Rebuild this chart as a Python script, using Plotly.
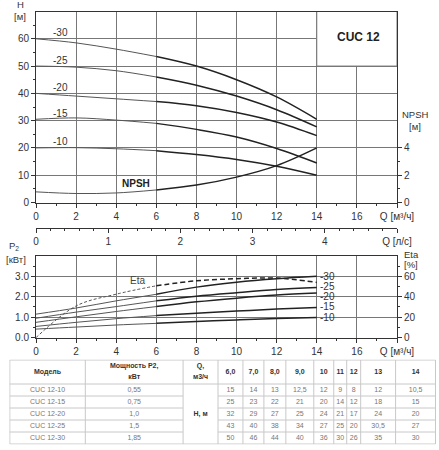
import plotly.graph_objects as go

# flow, m3/h
q = [0, 2, 4, 6, 8, 10, 12, 14]
stages = ["-30", "-25", "-20", "-15", "-10"]

# head curves, m
h_30 = [60, 58.5, 56.2, 53.5, 50, 45, 38.7, 30.5]
h_25 = [50, 49.6, 48.3, 46, 43, 39, 34, 27.7]
h_20 = [40, 39, 38, 37, 35.5, 33, 29.5, 24.5]
h_15 = [30.5, 31, 30.2, 29, 26.8, 24, 19.8, 14.5]
h_10 = [20, 20.1, 19.7, 19, 17.6, 15.8, 13.3, 10]
npsh = [0.78, 0.66, 0.7, 0.92, 1.28, 1.86, 2.7, 4.0]

# power P2, kW
p_30 = [1.15, 1.45, 1.8, 2.12, 2.47, 2.71, 2.88, 3.0]
p_25 = [0.95, 1.25, 1.52, 1.8, 2.03, 2.2, 2.35, 2.45]
p_20 = [0.75, 1.02, 1.28, 1.52, 1.75, 1.93, 2.08, 2.18]
p_15 = [0.55, 0.75, 0.93, 1.08, 1.2, 1.3, 1.4, 1.48]
p_10 = [0.42, 0.52, 0.62, 0.7, 0.79, 0.87, 0.94, 0.99]
p_label_y = [3.0, 2.5, 2.0, 1.5, 1.0]
eta = [0, 31, 42.5, 50.7, 55.6, 57.6, 58.2, 54]

# table
models = ["CUC 12-10", "CUC 12-15", "CUC 12-20", "CUC 12-25", "CUC 12-30"]
powers = ["0,55", "0,75", "1,0", "1,5", "1,85"]
q_cols = ["6,0", "7,0", "8,0", "9,0", "10", "11", "12", "13", "14"]
t_10 = ["15", "14", "13", "12,5", "12", "9", "8", "12", "10,5"]
t_15 = ["25", "23", "22", "21", "20", "14", "12", "18", "15"]
t_20 = ["32", "29", "27", "25", "24", "21", "17", "24", "20"]
t_25 = ["43", "40", "38", "34", "27", "25", "20", "30,5", "27"]
t_30 = ["50", "46", "44", "40", "36", "30", "26", "35", "30"]
header_txt = ["Модель", "Мощность P2,<br>кВт", "Q,<br>м3/ч"] + q_cols

heads = [h_30, h_25, h_20, h_15, h_10]
powers_kw = [p_30, p_25, p_20, p_15, p_10]
rows = [t_10, t_15, t_20, t_25, t_30]
split = 3  # operating range starts at Q=6

# table geometry (px)
col_w = [75.7, 98, 35, 25, 21, 22, 28, 20, 13, 14, 35, 40]
head_h, row_h = 24, 12

THIN = dict(color="#555", width=1, shape="spline")
THICK = dict(color="#222", width=1.5, shape="spline")
FONT = "Liberation Sans, Arial, sans-serif"
TXT = "#333"

fig = go.Figure()


def add_curve(y, xa, ya, dash=(None, None)):
    fig.add_trace(go.Scatter(x=q[:split + 1], y=y[:split + 1], mode="lines",
                             line=dict(THIN, dash=dash[0]), xaxis=xa, yaxis=ya,
                             showlegend=False, hoverinfo="skip"))
    fig.add_trace(go.Scatter(x=q[split:], y=y[split:], mode="lines",
                             line=dict(THICK, dash=dash[1]), xaxis=xa, yaxis=ya,
                             showlegend=False, hoverinfo="skip"))


for h in heads:
    add_curve(h, "x", "y")
add_curve(npsh, "x", "y2")
for p in powers_kw:
    add_curve(p, "x2", "y3")
add_curve(eta, "x2", "y4", dash=("3px,2px", "5px,3px"))

# empty trace so the l/s axis is drawn
fig.add_trace(go.Scatter(x=[], y=[], xaxis="x3", yaxis="y", showlegend=False))

# ---- table drawn on its own axes
edges = [0]
for w in col_w:
    edges.append(edges[-1] + w)
W = edges[-1]
H = head_h + row_h * len(models)
lx, ly = [], []
for e in edges:
    lx += [e, e, None]
    ly += [0, H, None]
lx += [0, W, None, 0, W, None, 0, W, None]
ly += [H, H, None, H - head_h, H - head_h, None, 0, 0, None]
for r in range(1, len(models)):
    yy = H - head_h - r * row_h
    lx += [0, edges[2], None, edges[3], W, None]
    ly += [yy, yy, None, yy, yy, None]
fig.add_trace(go.Scatter(x=lx, y=ly, mode="lines", line=dict(color="#c8c8c8", width=1),
                         xaxis="x4", yaxis="y5", showlegend=False, hoverinfo="skip"))

cx = [(edges[i] + edges[i + 1]) / 2 for i in range(len(col_w))]
hx, hy, ht = [], [], []
for c, t in zip(cx, header_txt):
    parts = t.split("<br>")
    if len(parts) == 1:
        hx.append(c); hy.append(H - head_h / 2); ht.append(parts[0])
    else:
        hx += [c, c]; hy += [H - 6.5, H - 17.5]; ht += parts
fig.add_trace(go.Scatter(x=hx, y=hy, mode="text", text=["<b>%s</b>" % t for t in ht],
                         textfont=dict(family=FONT, size=7, color="#333"),
                         xaxis="x4", yaxis="y5", showlegend=False, hoverinfo="skip"))
bx, by, bt = [], [], []
for r, (m, pw, vals) in enumerate(zip(models, powers, rows)):
    yc = H - head_h - (r + 0.5) * row_h
    for i, v in enumerate([m, pw] + vals):
        bx.append(cx[i if i < 2 else i + 1])
        by.append(yc)
        bt.append(v)
fig.add_trace(go.Scatter(x=bx, y=by, mode="text", text=bt,
                         textfont=dict(family=FONT, size=7, color="#777"),
                         xaxis="x4", yaxis="y5", showlegend=False, hoverinfo="skip"))
fig.add_trace(go.Scatter(x=[cx[2]], y=[(H - head_h) / 2], mode="text", text=["<b>H, м</b>"],
                         textfont=dict(family=FONT, size=7, color="#333"),
                         xaxis="x4", yaxis="y5", showlegend=False, hoverinfo="skip"))

ax = dict(showline=True, linecolor="#333", linewidth=1, ticks="outside", ticklen=4,
          tickcolor="#333", tickfont=dict(family=FONT, size=10, color=TXT),
          showgrid=True, gridcolor="#777", gridwidth=1, zeroline=False, automargin=False)
qticks = list(range(0, 19, 2))
qtext = [str(v) for v in qticks[:-1]] + ["Q [м³/ч]"]
qminor = dict(tickvals=list(range(1, 18, 2)), ticks="outside", ticklen=2, tickcolor="#333")
xd = [36 / 439, 397 / 439]
hidden = dict(visible=False, showgrid=False, zeroline=False, automargin=False, fixedrange=True)

fig.update_layout(
    width=439, height=450, margin=dict(l=0, r=0, t=0, b=0, autoexpand=False),
    paper_bgcolor="white", plot_bgcolor="white", showlegend=False,
    font=dict(family=FONT, size=10, color=TXT),
    xaxis=dict(ax, domain=xd, anchor="y", range=[0, 18], tickvals=qticks, ticktext=qtext,
               minor=qminor, mirror=True),
    yaxis=dict(ax, domain=[1 - 202.5 / 450, 1 - 11.5 / 450], anchor="x", range=[0, 70],
               tickvals=list(range(0, 61, 10)), mirror=True,
               minor=dict(tickvals=list(range(5, 70, 10)), ticks="outside", ticklen=2, tickcolor="#333")),
    yaxis2=dict(ax, overlaying="y", side="right", anchor="x", range=[0, 14], tickvals=[0, 2, 4],
                showgrid=False, minor=dict(tickvals=[1, 3], ticks="outside", ticklen=2, tickcolor="#333")),
    xaxis3=dict(ax, domain=xd, anchor="free", overlaying="x", position=1 - 227.5 / 450,
                range=[0, 5], tickvals=[0, 1, 2, 3, 4, 5], ticktext=["0", "1", "2", "3", "4", "Q [л/с]"],
                showgrid=False,
                minor=dict(tickvals=[i / 5 for i in range(25)], ticks="outside", ticklen=2, tickcolor="#333")),
    xaxis2=dict(ax, domain=xd, anchor="y3", range=[0, 18], tickvals=qticks, ticktext=qtext,
                minor=qminor, mirror=True),
    yaxis3=dict(ax, domain=[1 - 337.7 / 450, 1 - 255.8 / 450], anchor="x2", range=[0, 4],
                tickvals=[0, 1, 2, 3], tickformat=".1f", mirror=True,
                minor=dict(tickvals=[0.5, 1.5, 2.5, 3.5], ticks="outside", ticklen=2, tickcolor="#333")),
    yaxis4=dict(ax, overlaying="y3", side="right", anchor="x2", range=[0, 80],
                tickvals=[0, 20, 40, 60], showgrid=False,
                minor=dict(tickvals=[10, 30, 50, 70], ticks="outside", ticklen=2, tickcolor="#333")),
    xaxis4=dict(hidden, domain=[9.3 / 439, (9.3 + W) / 439], anchor="y5", range=[-0.5, W + 0.5]),
    yaxis5=dict(hidden, domain=[1 - 444.5 / 450, 1 - 359.5 / 450], anchor="x4", range=[-0.5, H + 0.5]),
)

# blank corner box for the title
fig.add_shape(type="rect", xref="x", yref="y", x0=14, x1=18, y0=50, y1=70,
              fillcolor="white", line=dict(color="#777", width=1), layer="between")

ann = []
for name, h in zip(stages, heads):
    ann.append(dict(x=1.2, y=h[0], xref="x", yref="y", text=name, showarrow=False,
                    yshift=6, font=dict(size=10, color=TXT)))
for name, yl in zip(stages, p_label_y):
    ann.append(dict(x=q[-1], y=yl, xref="x2", yref="y3", text=name, showarrow=False,
                    xanchor="left", xshift=1, font=dict(size=10, color=TXT)))
ann += [
    dict(x=16.1, y=60.5, xref="x", yref="y", text="<b>CUC 12</b>", showarrow=False,
         font=dict(size=12, color="#222")),
    dict(x=5.0, y=1.4, xref="x", yref="y2", text="<b>NPSH</b>", showarrow=False,
         font=dict(size=10, color="#222")),
    dict(x=5.05, y=55.6, xref="x2", yref="y4", text="Eta", showarrow=False,
         font=dict(size=10, color="#444")),
]
# axis titles, one annotation per line (pixel positions from the sheet)
corner = [("H", 20, 5), ("[м]", 20, 16), ("P<sub>2</sub>", 14, 246), ("[кВт]", 16, 259),
          ("NPSH", 415, 115), ("[м]", 415, 127), ("Eta", 411, 254), ("[%]", 411, 264.5)]
for txt, px_, py_ in corner:
    ann.append(dict(x=px_ / 439, y=1 - py_ / 450, xref="paper", yref="paper", text=txt,
                    xanchor="center", yanchor="middle", showarrow=False,
                    font=dict(size=9.5, color=TXT)))
fig.update_layout(annotations=ann)

fig.write_html("out.html", config={"displayModeBar": False},
               post_script="document.body.style.margin='0';")
